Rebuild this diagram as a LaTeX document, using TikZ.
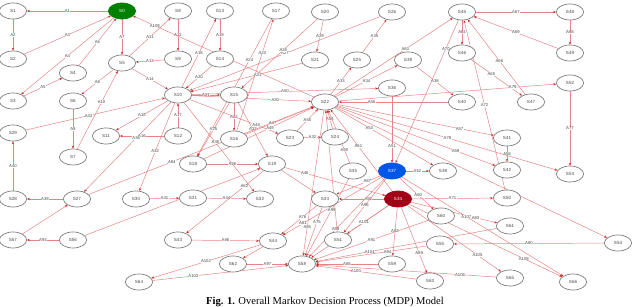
\documentclass[tikz,border=0pt]{standalone}
\usepackage{fontspec}
\setmainfont{Liberation Serif}
\setsansfont{Liberation Sans}
\usepackage{tikz}
\usetikzlibrary{arrows.meta,shapes.geometric,backgrounds}
\definecolor{redEdge}{RGB}{228,132,132}
\definecolor{redTip}{RGB}{205,35,35}
\definecolor{grayBox}{RGB}{125,125,125}
\definecolor{grayText}{RGB}{70,70,70}
\definecolor{greenState}{RGB}{0,128,0}
\definecolor{blueState}{RGB}{0,86,232}
\definecolor{redState}{RGB}{162,0,22}

\begin{document}
\begin{tikzpicture}[x=0.025cm,y=-0.025cm,
  stateNode/.style={ellipse, draw=grayBox, fill=white, line width=0.5pt,
    minimum width=0.68cm, minimum height=0.4cm, inner sep=0pt,
    font=\sffamily\fontsize{3.2}{4}\selectfont, text=grayText},
  actEdge/.style={draw=redEdge, line width=0.35pt,
    -{Stealth[length=2pt,width=1.6pt,color=redTip]}},
  actLabel/.style={font=\sffamily\fontsize{3}{3.5}\selectfont, text=grayText,
    fill=white, inner sep=0.2pt}]
  \useasboundingbox (0,0) rectangle (640,307);
  % States, row by row
  \node[stateNode] (s1) at (13,11) {S1};
  \node[stateNode, fill=greenState, draw=greenState, text=white] (s0) at (122,11) {S0};
  \node[stateNode] (s8) at (178,11) {S8};
  \node[stateNode] (s13) at (220,11) {S13};
  \node[stateNode] (s17) at (276,11) {S17};
  \node[stateNode] (s20) at (325,12) {S20};
  \node[stateNode] (s26) at (392,12) {S26};
  \node[stateNode] (s45) at (462,12) {S45};
  \node[stateNode] (s48) at (570,12) {S48};
  \node[stateNode] (s2) at (13,59) {S2};
  \node[stateNode] (s5) at (122,63) {S5};
  \node[stateNode] (s4) at (73,73) {S4};
  \node[stateNode] (s9) at (178,59) {S9};
  \node[stateNode] (s14) at (220,59) {S14};
  \node[stateNode] (s21) at (315,60) {S21};
  \node[stateNode] (s25) at (357,60) {S25};
  \node[stateNode] (s39) at (408,60) {S39};
  \node[stateNode] (s46) at (462,53) {S46};
  \node[stateNode] (s49) at (570,53) {S49};
  \node[stateNode] (s3) at (13,101) {S3};
  \node[stateNode] (s6) at (73,101) {S6};
  \node[stateNode] (s10) at (178,95) {S10};
  \node[stateNode] (s15) at (234,95) {S15};
  \node[stateNode] (s22) at (325,102) {S22};
  \node[stateNode] (s36) at (392,88) {S36};
  \node[stateNode] (s40) at (462,102) {S40};
  \node[stateNode] (s47) at (531,102) {S47};
  \node[stateNode] (s52) at (570,83) {S52};
  \node[stateNode] (s29) at (13,133) {S29};
  \node[stateNode] (s11) at (106,136) {S11};
  \node[stateNode] (s12) at (178,136) {S12};
  \node[stateNode] (s16) at (234,139) {S16};
  \node[stateNode] (s23) at (290,138) {S23};
  \node[stateNode] (s24) at (335,137) {S24};
  \node[stateNode] (s41) at (507,138) {S41};
  \node[stateNode] (s7) at (73,157) {S7};
  \node[stateNode] (s18) at (193,164) {S18};
  \node[stateNode] (s19) at (272,164) {S19};
  \node[stateNode] (s35) at (353,171) {S35};
  \node[stateNode, fill=blueState, draw=blueState, text=white] (s37) at (392,171) {S37};
  \node[stateNode] (s38) at (443,171) {S38};
  \node[stateNode] (s42) at (507,170) {S42};
  \node[stateNode] (s53) at (570,174) {S53};
  \node[stateNode] (s28) at (13,199) {S28};
  \node[stateNode] (s27) at (77,199) {S27};
  \node[stateNode] (s30) at (136,199) {S30};
  \node[stateNode] (s31) at (193,198) {S31};
  \node[stateNode] (s32) at (260,199) {S32};
  \node[stateNode] (s33) at (325,199) {S33};
  \node[stateNode, fill=redState, draw=redState, text=white] (s34) at (398,199) {S34};
  \node[stateNode] (s50) at (507,198) {S50};
  \node[stateNode] (s60) at (441,216) {S60};
  \node[stateNode] (s61) at (510,226) {S61};
  \node[stateNode] (s57) at (13,240) {S57};
  \node[stateNode] (s56) at (73,240) {S56};
  \node[stateNode] (s43) at (178,240) {S43};
  \node[stateNode] (s44) at (273,241) {S44};
  \node[stateNode] (s51) at (338,240) {S51};
  \node[stateNode] (s55) at (440,244) {S55};
  \node[stateNode] (s54) at (618,243) {S54};
  \node[stateNode] (s62) at (233,264) {S62};
  \node[stateNode] (s58) at (302,264) {S58};
  \node[stateNode] (s59) at (392,264) {S59};
  \node[stateNode] (s63) at (430,281) {S63};
  \node[stateNode] (s65) at (510,278) {S65};
  \node[stateNode] (s66) at (573,282) {S66};
  \node[stateNode] (s64) at (139,282) {S64};
  % Caption
  \node[font=\fontsize{7.5}{9}\selectfont] (caption) at (325,302)
    {\textbf{Fig. 1.} Overall Markov Decision Process (MDP) Model};
  % Actions
  \begin{scope}[on background layer]
  \draw[actEdge] (s0) -- node[actLabel]{A1} (s1);
  \draw[actEdge] (s1) -- node[actLabel]{A2} (s2);
  \draw[actEdge] (s2) -- node[actLabel]{A3} (s0);
  \draw[actEdge] (s0) -- node[actLabel]{A4} (s3);
  \draw[actEdge] (s3) -- node[actLabel]{A5} (s4);
  \draw[actEdge] (s4) -- node[actLabel]{A6} (s0);
  \draw[actEdge] (s0) -- node[actLabel]{A7} (s5);
  \draw[actEdge] (s5) -- node[actLabel]{A8} (s6);
  \draw[actEdge] (s6) -- node[actLabel]{A9} (s7);
  \draw[actEdge] (s7) -- node[actLabel, pos=0.6]{A10} (s5);
  \draw[actEdge] (s5) -- node[actLabel]{A11} (s8);
  \draw[actEdge] (s8) -- node[actLabel]{A12} (s9);
  \draw[actEdge] (s9) -- node[actLabel]{A13} (s5);
  \draw[actEdge] (s5) -- node[actLabel]{A14} (s10);
  \draw[actEdge] (s10) -- node[actLabel]{A15} (s11);
  \draw[actEdge] (s12) -- node[actLabel]{A16} (s11);
  \draw[actEdge] (s12) -- node[actLabel]{A17} (s10);
  \draw[actEdge] (s10) -- node[actLabel]{A18} (s13);
  \draw[actEdge] (s13) -- node[actLabel]{A19} (s14);
  \draw[actEdge] (s14) -- node[actLabel]{A20} (s10);
  \draw[actEdge] (s10) -- node[actLabel]{A21} (s15);
  \draw[actEdge] (s15) -- node[actLabel]{A22} (s16);
  \draw[actEdge] (s16) -- node[actLabel, pos=0.7]{A23} (s17);
  \draw[actEdge] (s17) -- node[actLabel, pos=0.3]{A24} (s18);
  \draw[actEdge] (s15) -- node[actLabel]{A25} (s18);
  \draw[actEdge] (s18) -- node[actLabel]{A26} (s19);
  \draw[actEdge] (s26) -- node[actLabel, pos=0.5]{A27} (s10);
  \draw[actEdge] (s20) -- node[actLabel, pos=0.45]{A28} (s15);
  \draw[actEdge] (s20) -- node[actLabel]{A29} (s21);
  \draw[actEdge] (s10) -- node[actLabel, pos=0.7]{A30} (s22);
  \draw[actEdge] (s21) -- node[actLabel, pos=0.4]{A31} (s10);
  \draw[actEdge] (s23) -- node[actLabel]{A32} (s24);
  \draw[actEdge] (s22) -- node[actLabel]{A33} (s25);
  \draw[actEdge] (s22) -- node[actLabel]{A34} (s39);
  \draw[actEdge] (s25) -- node[actLabel]{A35} (s26);
  \draw[actEdge] (s10) -- node[actLabel, pos=0.4]{A36} (s27);
  \draw[actEdge] (s15) -- node[actLabel]{A37} (s19);
  \draw[actEdge] (s39) -- node[actLabel]{A38} (s40);
  \draw[actEdge] (s27) -- node[actLabel]{A39} (s28);
  \draw[actEdge] (s28) -- node[actLabel]{A40} (s29);
  \draw[actEdge] (s30) -- node[actLabel]{A41} (s31);
  \draw[actEdge] (s10) -- node[actLabel, pos=0.55]{A42} (s30);
  \draw[actEdge] (s29) -- node[actLabel, pos=0.45]{A43} (s10);
  \draw[actEdge] (s31) -- node[actLabel]{A44} (s32);
  \draw[actEdge] (s10) -- node[actLabel, pos=0.45]{A45} (s32);
  \draw[actEdge] (s19) -- node[actLabel, pos=0.2]{A46} (s34);
  \draw[actEdge] (s16) -- node[actLabel, pos=0.4]{A47} (s22);
  \draw[actEdge] (s10) -- node[actLabel, pos=0.75]{A48} (s23);
  \draw[actEdge] (s18) -- node[actLabel, pos=0.6]{A49} (s22);
  \draw[actEdge] (s10) -- node[actLabel, pos=0.5]{A50} (s36);
  \draw[actEdge] (s36) -- node[actLabel, pos=0.75]{A51} (s37);
  \draw[actEdge] (s37) -- node[actLabel]{A52} (s38);
  \draw[actEdge] (s22) -- node[actLabel, pos=0.35]{A53} (s38);
  \draw[actEdge] (s24) -- node[actLabel]{A54} (s22);
  \draw[actEdge] (s23) -- node[actLabel]{A55} (s22);
  \draw[actEdge] (s40) -- node[actLabel, pos=0.7]{A56} (s22);
  \draw[actEdge] (s22) -- node[actLabel, pos=0.78]{A57} (s41);
  \draw[actEdge] (s41) -- node[actLabel]{A58} (s42);
  \draw[actEdge] (s22) -- node[actLabel, pos=0.75]{A59} (s42);
  \draw[actEdge] (s37) -- node[actLabel, pos=0.55]{A60} (s60);
  \draw[actEdge] (s34) -- node[actLabel, pos=0.55]{A61} (s22);
  \draw[actEdge] (s19) -- node[actLabel, pos=0.25]{A62} (s43);
  \draw[actEdge] (s22) -- node[actLabel, pos=0.6]{A63} (s45);
  \draw[actEdge] (s45) -- node[actLabel]{A64} (s46);
  \draw[actEdge] (s46) -- node[actLabel, pos=0.4]{A65} (s47);
  \draw[actEdge] (s47) -- node[actLabel, pos=0.45]{A66} (s45);
  \draw[actEdge] (s45) -- node[actLabel]{A67} (s48);
  \draw[actEdge] (s48) -- node[actLabel]{A68} (s49);
  \draw[actEdge] (s49) -- node[actLabel]{A69} (s45);
  \draw[actEdge] (s45) -- node[actLabel, pos=0.2]{A70} (s37);
  \draw[actEdge] (s34) -- node[actLabel]{A71} (s50);
  \draw[actEdge] (s50) -- node[actLabel, pos=0.5]{A72} (s45);
  \draw[actEdge] (s33) -- node[actLabel, pos=0.3]{A75} (s58);
  \draw[actEdge] (s33) -- node[actLabel, pos=0.4]{A76} (s44);
  \draw[actEdge] (s52) -- node[actLabel]{A77} (s53);
  \draw[actEdge] (s22) -- node[actLabel, pos=0.5]{A78} (s53);
  \draw[actEdge] (s22) -- node[actLabel, pos=0.8]{A79} (s52);
  \draw[actEdge] (s54) -- node[actLabel, pos=0.5]{A80} (s55);
  \draw[actEdge] (s37) -- node[actLabel, pos=0.8]{A81} (s44);
  \draw[actEdge] (s34) -- node[actLabel, pos=0.5]{A82} (s59);
  \draw[actEdge] (s34) -- node[actLabel, pos=0.75]{A83} (s61);
  \draw[actEdge] (s27) -- node[actLabel, pos=0.37]{A84} (s22);
  \draw[actEdge] (s22) -- node[actLabel, pos=0.8]{A85} (s58);
  \draw[actEdge] (s43) -- node[actLabel]{A86} (s44);
  \draw[actEdge] (s37) -- node[actLabel, pos=0.3]{A87} (s33);
  \draw[actEdge] (s59) -- node[actLabel]{A88} (s58);
  \draw[actEdge] (s34) -- node[actLabel, pos=0.7]{A89} (s63);
  \draw[actEdge] (s35) -- node[actLabel, pos=0.25]{A90} (s22);
  \draw[actEdge] (s60) -- node[actLabel, pos=0.5]{A91} (s58);
  \draw[actEdge] (s34) -- node[actLabel, pos=0.35]{A92} (s33);
  \draw[actEdge] (s56) -- node[actLabel]{A93} (s57);
  \draw[actEdge] (s55) -- node[actLabel, pos=0.35]{A94} (s58);
  \draw[actEdge] (s34) -- node[actLabel, pos=0.6]{A95} (s58);
  \draw[actEdge] (s37) -- node[actLabel, pos=0.5]{A96} (s51);
  \draw[actEdge] (s62) -- node[actLabel]{A97} (s58);
  \draw[actEdge] (s37) -- node[actLabel, pos=0.65]{A98} (s58);
  \draw[actEdge] (s35) -- node[actLabel, pos=0.4]{A99} (s58);
  \draw[actEdge] (s63) -- node[actLabel, pos=0.6]{A100} (s58);
  \draw[actEdge] (s34) -- node[actLabel, pos=0.6]{A101} (s51);
  \draw[actEdge] (s44) -- node[actLabel, pos=0.5]{A102} (s64);
  \draw[actEdge] (s64) -- node[actLabel, pos=0.3]{A103} (s58);
  \draw[actEdge] (s61) -- node[actLabel, pos=0.7]{A104} (s58);
  \draw[actEdge] (s34) -- node[actLabel, pos=0.75]{A105} (s65);
  \draw[actEdge] (s65) -- node[actLabel, pos=0.2]{A106} (s58);
  \draw[actEdge] (s37) -- node[actLabel, pos=0.4]{A107} (s66);
  \draw[actEdge] (s34) -- node[actLabel, pos=0.75]{A108} (s66);
  \draw[actEdge] (s22) -- node[actLabel, pos=0.88]{A109} (s0);
  \draw[actEdge] (s57) -- (s27);
  \draw[actEdge] (s56) -- (s19);
  \draw[actEdge] (s44) -- (s62);
  \draw[actEdge] (s51) -- (s22);
  \draw[actEdge] (s19) -- (s33);
  \draw[actEdge] (s22) -- (s54);
  \end{scope}
\end{tikzpicture}
\end{document}
